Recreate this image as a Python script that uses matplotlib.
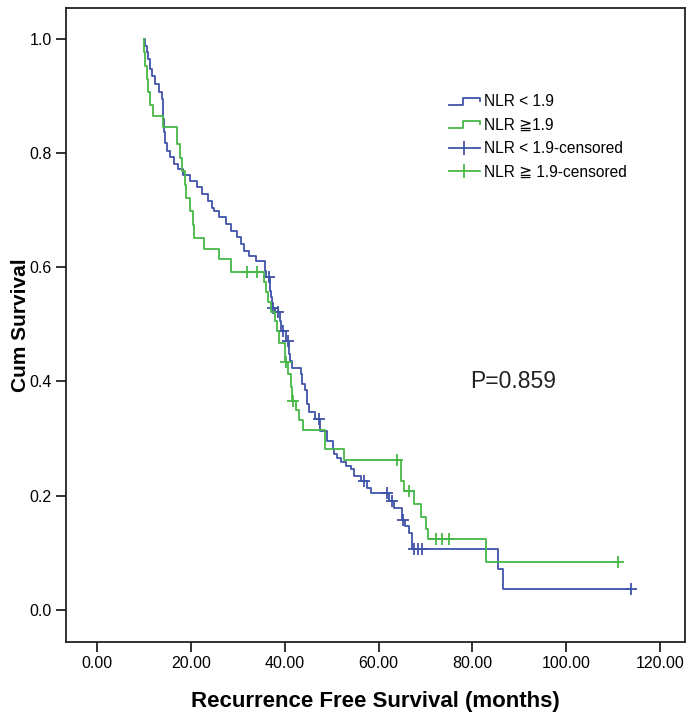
import numpy as np
import matplotlib
matplotlib.use("Agg")
import matplotlib.pyplot as plt
from matplotlib.lines import Line2D
from matplotlib.legend_handler import HandlerBase
from matplotlib.ticker import FormatStrFormatter

plt.rcParams['font.family'] = ['Liberation Sans', 'DejaVu Sans', 'Noto Sans CJK SC']

# Kaplan-Meier steps (time in months, cumulative survival)
low_t = [10.0, 10.3, 10.6, 10.9, 11.2, 11.7, 12.4, 13.1, 13.8, 14.0, 14.1, 14.2, 14.5, 14.9, 15.6,
         16.3, 17.3, 18.4, 19.9, 21.2, 22.4, 23.6, 24.5, 25.0, 26.0, 27.5, 28.6, 29.9, 30.6, 31.4,
         32.4, 33.8, 35.9, 36.1, 36.8, 36.9, 37.0, 37.2, 38.0, 39.0, 39.3, 40.2, 40.9, 41.1, 41.6,
         43.4, 43.6, 44.4, 44.8, 45.2, 46.5, 47.6, 49.1, 50.2, 50.6, 51.2, 51.9, 53.0, 54.1, 54.8,
         56.2, 57.6, 58.3, 62.2, 63.4, 65.0, 65.7, 66.5, 67.2, 85.4, 86.5]
low_s = [1.0, 0.988, 0.976, 0.964, 0.947, 0.935, 0.92, 0.906, 0.894, 0.876, 0.859, 0.836, 0.818, 0.804, 0.792,
         0.780, 0.771, 0.762, 0.751, 0.740, 0.728, 0.716, 0.704, 0.698, 0.687, 0.676, 0.664, 0.652, 0.641, 0.629,
         0.620, 0.611, 0.594, 0.582, 0.570, 0.558, 0.547, 0.529, 0.521, 0.506, 0.489, 0.471, 0.448, 0.436, 0.424,
         0.413, 0.395, 0.384, 0.360, 0.346, 0.334, 0.313, 0.296, 0.281, 0.273, 0.265, 0.258, 0.252, 0.246, 0.235,
         0.226, 0.214, 0.205, 0.190, 0.179, 0.158, 0.147, 0.135, 0.107, 0.071, 0.036]
low_cens = [36.6, 37.5, 38.5, 39.6, 40.6, 47.3, 56.9, 61.9, 62.9, 65.2, 67.6, 68.4, 69.3, 113.9]

high_t = [10.0, 10.1, 10.3, 10.6, 10.8, 11.2, 12.0, 14.0, 17.0, 17.6, 18.1, 18.7, 19.0, 19.9, 20.5,
          20.7, 22.7, 25.9, 28.6, 35.6, 36.0, 36.5, 37.0, 38.0, 38.3, 38.7, 40.1, 40.8, 41.3, 41.5,
          42.5, 43.0, 44.0, 48.6, 52.6, 64.7, 65.5, 67.6, 69.0, 70.1, 70.6, 82.9]
high_s = [1.0, 0.977, 0.953, 0.93, 0.907, 0.884, 0.864, 0.846, 0.815, 0.791, 0.768, 0.744, 0.721, 0.698, 0.674,
          0.651, 0.632, 0.614, 0.591, 0.574, 0.556, 0.539, 0.522, 0.505, 0.488, 0.468, 0.433, 0.413, 0.39, 0.366,
          0.350, 0.333, 0.314, 0.281, 0.262, 0.226, 0.208, 0.185, 0.162, 0.141, 0.124, 0.083]
high_cens = [32.0, 34.1, 40.3, 41.7, 64.0, 66.5, 72.2, 73.5, 75.0, 111.1]

labels = ['NLR < 1.9', 'NLR \u22671.9', 'NLR < 1.9-censored', 'NLR \u2267 1.9-censored']
blue = '#3f53a9'
green = '#47b847'


class StepHandler(HandlerBase):
    # little step icon like the SPSS legend
    def create_artists(self, legend, orig_handle, xdescent, ydescent, width, height, fontsize, trans):
        xs = np.array([0, 0.45, 0.45, 1.0, 1.0]) * width - xdescent
        ys = np.array([0.15, 0.15, 0.8, 0.8, 0.5]) * height - ydescent
        ln = Line2D(xs, ys, color=orig_handle.get_color(), lw=orig_handle.get_linewidth())
        ln.set_transform(trans)
        return [ln]


def surv_at(times, surv, pts):
    idx = np.searchsorted(times, pts, side='right') - 1
    return np.array(surv)[idx]


fig = plt.figure(figsize=(6.96, 7.17), dpi=100)
ax = fig.add_axes([0.095, 0.105, 0.889, 0.884])

for t, s, cens, col in [(low_t, low_s, low_cens, blue), (high_t, high_s, high_cens, green)]:
    tt = list(t) + [max(cens)]
    ss = list(s) + [s[-1]]
    ax.step(tt, ss, where='post', color=col, lw=1.3)
    ax.plot(cens, surv_at(t, s, cens), ls='none', marker='+', ms=9, mew=1.3, color=col)

ax.set_xlim(-6.6, 125.3)
ax.set_ylim(-0.056, 1.054)
ax.set_xticks(np.arange(0, 121, 20))
ax.set_yticks(np.arange(0, 1.01, 0.2))
ax.xaxis.set_major_formatter(FormatStrFormatter('%.2f'))
ax.yaxis.set_major_formatter(FormatStrFormatter('%.1f'))
ax.tick_params(direction='out', length=7, width=1.3, labelsize=11.5, color='#222222')
for sp in ax.spines.values():
    sp.set_linewidth(1.3)
    sp.set_color('#222222')

ax.set_xlabel('Recurrence Free Survival (months)', fontsize=16, fontweight='bold', labelpad=14)
ax.set_ylabel('Cum Survival', fontsize=15, fontweight='bold')
ax.yaxis.set_label_coords(-0.058, 0.5)

ax.text(79.5, 0.40, 'P=0.859', fontsize=16.5, va='center', ha='left', color='#222222')

h1 = Line2D([], [], color=blue, lw=1.3)
h2 = Line2D([], [], color=green, lw=1.3)
h3 = Line2D([], [], color=blue, lw=1.3, marker='|', ms=10, mew=1.3)
h4 = Line2D([], [], color=green, lw=1.3, marker='|', ms=10, mew=1.3)
ax.legend([h1, h2, h3, h4], labels, handler_map={h1: StepHandler(), h2: StepHandler()},
          loc='upper left', bbox_to_anchor=(0.606, 0.876), frameon=False, fontsize=11.2,
          numpoints=1, handlelength=2.0, handletextpad=0.25, labelspacing=0.55, borderpad=0)

fig.savefig('out.png', dpi=100)
